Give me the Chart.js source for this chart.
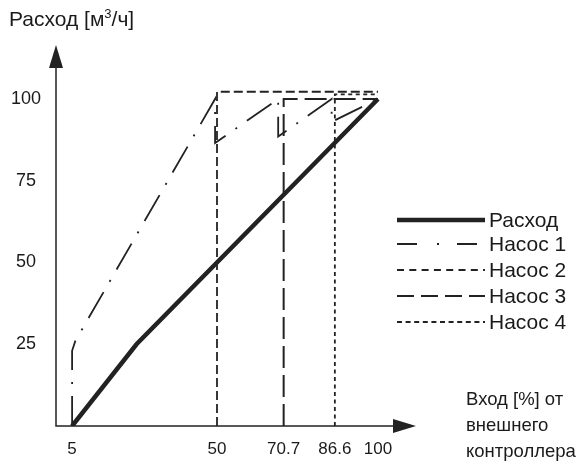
<!DOCTYPE html>
<html>
<head>
<meta charset="utf-8">
<script src="https://cdn.jsdelivr.net/npm/chart.js@4.4.1/dist/chart.umd.min.js"></script>
<style>
  body { margin: 0; background: #fff; }
  #wrap { position: relative; width: 578px; height: 467px; font-family: "Liberation Sans", Arial, sans-serif; color: #1a1a1a; }
  .txt { position: absolute; font-size: 18.5px; line-height: 26px; white-space: nowrap; }
  .title { font-size: 21px; }
  sup { font-size: 13px; vertical-align: 8px; line-height: 0; }
</style>
</head>
<body>
<div id="wrap">
  <canvas id="chart" width="578" height="467"></canvas>
  <div class="txt title" style="left:9px; top:6px;">Расход [м<sup>3</sup>/ч]</div>
  <div class="txt" style="left:466px; top:386px;">Вход [%] от<br>внешнего<br>контроллера</div>
</div>
<script>
// x ticks / y ticks
const xTicks = [5, 50, 70.7, 86.6, 100]
const yTicks = [25, 50, 75, 100]

// series (x = вход %, y = расход)
const flowX = [5, 25, 100]
const flowY = [0, 25, 100]
const pump1X = [5, 5, 6, 49.4, 49.4, 69, 69, 85.6, 85.6, 100]
const pump1Y = [0, 23, 26, 100, 86.5, 100, 88.5, 100, 93, 100]
const pump2X = [50, 50, 100]
const pump2Y = [0, 102.2, 102.2]
const pump3X = [70.7, 70.7, 100]
const pump3Y = [0, 100, 100]
const pump4X = [86.6, 86.6, 100]
const pump4Y = [0, 101.4, 101.4]

const labels = ["Расход", "Насос 1", "Насос 2", "Насос 3", "Насос 4"]

const ink = "#222"
const pts = (xs, ys) => xs.map((x, i) => ({ x, y: ys[i] }))

const series = [
    { x: flowX, y: flowY, width: 4.5, dash: [], legendDash: [] },
    { x: pump1X, y: pump1Y, width: 1.8, dash: [30, 12, 2, 12], legendDash: [20, 20, 2, 18] },
    { x: pump2X, y: pump2Y, width: 1.8, dash: [9, 4], legendDash: [7, 5.3] },
    { x: pump3X, y: pump3Y, width: 2, dash: [22, 7], legendDash: [17, 7] },
    { x: pump4X, y: pump4Y, width: 1.8, dash: [4, 3.5], legendDash: [5, 3.6] }
]

const datasets = series.map((s, i) => ({
    label: labels[i],
    data: pts(s.x, s.y),
    showLine: true,
    borderColor: ink,
    borderWidth: s.width,
    borderDash: s.dash,
    legendDash: s.legendDash,
    pointRadius: 0,
    tension: 0,
    fill: false
}))

// axes with arrows
const axisArrows = {
    id: "axisArrows",
    afterDraw(chart) {
        const { ctx, chartArea: a } = chart
        ctx.save()
        ctx.strokeStyle = ink
        ctx.fillStyle = ink
        ctx.lineWidth = 1.5
        ctx.setLineDash([])
        ctx.beginPath()
        ctx.moveTo(a.left, a.top + 15)
        ctx.lineTo(a.left, a.bottom)
        ctx.lineTo(a.right - 15, a.bottom)
        ctx.stroke()
        ctx.beginPath()
        ctx.moveTo(a.left, a.top)
        ctx.lineTo(a.left - 7, a.top + 23)
        ctx.lineTo(a.left + 7, a.top + 23)
        ctx.closePath()
        ctx.fill()
        ctx.beginPath()
        ctx.moveTo(a.right, a.bottom)
        ctx.lineTo(a.right - 23, a.bottom - 7)
        ctx.lineTo(a.right - 23, a.bottom + 7)
        ctx.closePath()
        ctx.fill()
        ctx.restore()
    }
}

// legend on the right, drawn from the datasets
const sideLegend = {
    id: "sideLegend",
    afterDraw(chart) {
        const { ctx } = chart
        const x0 = 397, x1 = 485, tx = 489
        const rows = [220, 244, 270, 296, 322]
        ctx.save()
        ctx.font = "21px 'Liberation Sans', Arial, sans-serif"
        ctx.textBaseline = "middle"
        chart.data.datasets.forEach((ds, i) => {
            const y = rows[i]
            ctx.strokeStyle = ds.borderColor
            ctx.lineWidth = ds.borderWidth
            ctx.setLineDash(ds.legendDash)
            ctx.beginPath()
            ctx.moveTo(x0, y)
            ctx.lineTo(x1, y)
            ctx.stroke()
            ctx.fillStyle = "#1a1a1a"
            ctx.fillText(ds.label, tx, y + 1)
        })
        ctx.restore()
    }
}

new Chart(document.getElementById("chart"), {
    type: "scatter",
    data: { datasets },
    options: {
        responsive: false,
        animation: false,
        layout: { padding: { top: 45, right: 162, left: 0, bottom: 0 } },
        plugins: { legend: { display: false }, tooltip: { enabled: false } },
        scales: {
            x: {
                type: "linear",
                min: 0,
                max: 111.8,
                grid: { display: false, drawTicks: false },
                border: { display: false },
                afterBuildTicks: s => { s.ticks = xTicks.map(v => ({ value: v })) },
                afterFit: s => { s.height = 41 },
                ticks: {
                    color: "#1a1a1a",
                    padding: 13,
                    maxRotation: 0,
                    autoSkip: false,
                    font: { family: "'Liberation Sans', Arial, sans-serif", size: 17 },
                    callback: v => String(v)
                }
            },
            y: {
                type: "linear",
                min: 0,
                max: 116.5,
                grid: { display: false, drawTicks: false },
                border: { display: false },
                afterBuildTicks: s => { s.ticks = yTicks.map(v => ({ value: v })) },
                afterFit: s => { s.width = 56 },
                ticks: {
                    color: "#1a1a1a",
                    padding: 15,
                    crossAlign: "center",
                    autoSkip: false,
                    font: { family: "'Liberation Sans', Arial, sans-serif", size: 18 },
                    callback: v => String(v)
                }
            }
        }
    },
    plugins: [axisArrows, sideLegend]
})
</script>
</body>
</html>
